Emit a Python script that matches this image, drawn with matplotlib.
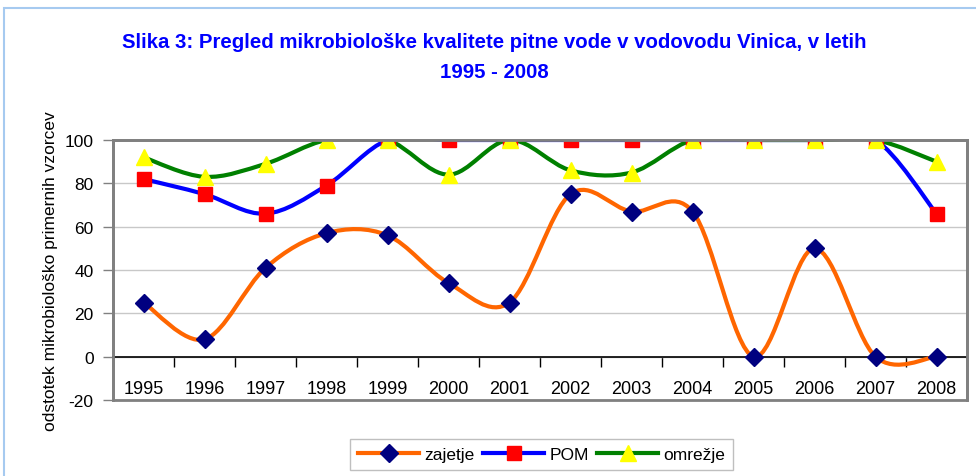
import numpy as np
import matplotlib
matplotlib.use("Agg")
from matplotlib import pyplot as plt
from matplotlib.path import Path
from matplotlib.patches import PathPatch, Rectangle
from matplotlib.lines import Line2D

years = ['1995', '1996', '1997', '1998', '1999', '2000', '2001',
         '2002', '2003', '2004', '2005', '2006', '2007', '2008']
zajetje = [25, 8, 41, 57, 56, 34, 25, 75, 67, 67, 0, 50, 0, 0]
pom = [82, 75, 66, 79, 100, 100, 100, 100, 100, 100, 100, 100, 100, 66]
omrezje = [92, 83, 89, 100, 100, 84, 100, 86, 85, 100, 100, 100, 100, 90]

title_1 = 'Slika 3: Pregled mikrobiološke kvalitete pitne vode v vodovodu Vinica, v letih'
title_2 = '1995 - 2008'
ylabel = 'odstotek mikrobiološko primernih vzorcev'

plt.rcParams['font.family'] = ['Liberation Sans', 'DejaVu Sans']
plt.rcParams['axes.unicode_minus'] = False


def smooth_path(xs, ys):
    # Excel-like smoothed line: cubic bezier through points, tension 1/6
    pts = np.column_stack([xs, ys]).astype(float)
    n = len(pts)
    verts = [pts[0]]
    codes = [Path.MOVETO]
    for i in range(n - 1):
        p0 = pts[i - 1] if i > 0 else pts[i]
        p1 = pts[i]
        p2 = pts[i + 1]
        p3 = pts[i + 2] if i + 2 < n else pts[i + 1]
        verts += [p1 + (p2 - p0) / 6, p2 - (p3 - p1) / 6, p2]
        codes += [Path.CURVE4] * 3
    return Path(verts, codes)


fig = plt.figure(figsize=(9.76, 4.77), dpi=100)
ax = fig.add_axes([0.1158, 0.1593, 0.875, 0.5451])

x = np.arange(len(years))
series = [
    (zajetje, '#ff6600', 'D', '#000080', 9, 'zajetje'),
    (pom, '#0000ff', 's', '#ff0000', 10, 'POM'),
    (omrezje, '#008000', '^', '#ffff00', 11, 'omrežje'),
]
handles = []
for k, (vals, lc, mk, mc, ms, name) in enumerate(series):
    ax.add_patch(PathPatch(smooth_path(x, vals), fill=False, edgecolor=lc,
                           lw=3, capstyle='round', zorder=3 + k))
    ax.plot(x, vals, linestyle='none', marker=mk, markersize=ms,
            markerfacecolor=mc, markeredgecolor=mc, zorder=6 + k)
    handles.append(Line2D([], [], color=lc, lw=3, marker=mk, markersize=ms,
                          markerfacecolor=mc, markeredgecolor=mc, label=name))

ax.set_xlim(-0.5, len(years) - 0.5)
ax.set_ylim(-20, 100)
ax.set_yticks(range(-20, 101, 20))
ax.yaxis.grid(True, color='#c8c8c8', lw=1)
ax.set_axisbelow(True)

# x axis crosses at 0, ticks between categories
ax.set_xticks(np.arange(-0.5, len(years), 1.0))
ax.set_xticklabels([])
ax.set_xticks(x, minor=True)
ax.set_xticklabels(years, minor=True)
ax.tick_params(axis='x', which='major', direction='out', length=7, width=1, color='black')
ax.tick_params(axis='x', which='minor', length=0, pad=17, labelsize=13)
ax.tick_params(axis='y', direction='out', length=7, width=1, color='#808080',
               labelsize=12.5, pad=7)
for s in ['top', 'right', 'left']:
    ax.spines[s].set_color('#808080')
    ax.spines[s].set_linewidth(2)
ax.spines['bottom'].set_position(('data', 0))
ax.spines['bottom'].set_color('black')
ax.spines['bottom'].set_linewidth(1.2)
ax.add_patch(Rectangle((0, 0), 1, 1, transform=ax.transAxes, fill=False,
                       edgecolor='#808080', lw=2, zorder=10, clip_on=False))

ax.set_ylabel(ylabel, fontsize=12.5, labelpad=5)
fig.text(494 / 976, 1 - 42 / 477, title_1, ha='center', va='center', color='#0000ff',
         fontsize=14.7, fontweight='bold')
fig.text(494 / 976, 1 - 72 / 477, title_2, ha='center', va='center', color='#0000ff',
         fontsize=14.7, fontweight='bold')

fig.legend(handles=handles, loc='lower center', bbox_to_anchor=(0.555, -0.005),
           ncol=3, fontsize=12.5, frameon=True, fancybox=False, edgecolor='#b0b0b0',
           handlelength=3.5, columnspacing=0.5, handletextpad=0.3, borderpad=0.45)

fig.patches.append(Rectangle((4 / 976, -0.1), 1.2, 1 - 9 / 477 + 0.1,
                             transform=fig.transFigure, fill=False,
                             edgecolor='#a6caf0', lw=1.5))

fig.savefig('out.png', dpi=100)
